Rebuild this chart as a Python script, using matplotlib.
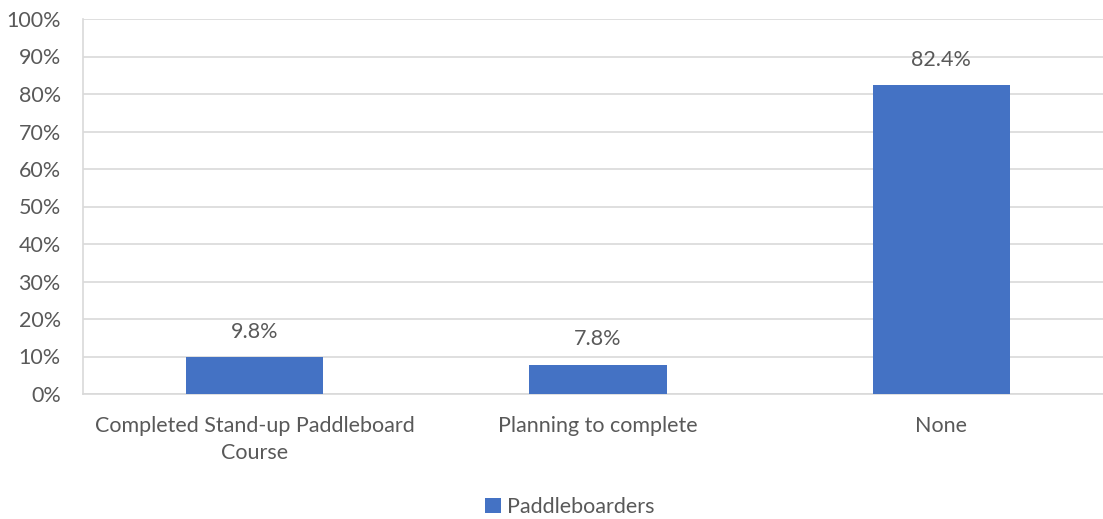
import numpy as np
import matplotlib.pyplot as plt
from matplotlib.ticker import PercentFormatter

categories = ['Completed Stand-up Paddleboard\nCourse', 'Planning to complete', 'None']
values = [9.8, 7.8, 82.4]
series_name = 'Paddleboarders'

bar_color = '#4472C4'
text_color = '#595959'
grid_color = '#D9D9D9'

plt.rcParams['font.family'] = ['Lato', 'DejaVu Sans']
fs = 15.5

fig = plt.figure(figsize=(11.03, 5.19), dpi=100)
ax = fig.add_axes([83 / 1103, 1 - 394 / 519, 1030 / 1103, 375 / 519])

x = np.arange(len(categories))
bars = ax.bar(x, values, width=0.40, color=bar_color, zorder=3, label=series_name)

for b, v in zip(bars, values):
    ax.annotate(f'{v:.1f}%', (b.get_x() + b.get_width() / 2, v),
                xytext=(0, 11), textcoords='offset points',
                ha='center', va='bottom', fontsize=fs, color=text_color)

ax.set_xlim(-0.5, len(categories) - 0.5)
ax.set_ylim(0, 100)
ax.set_yticks(np.arange(0, 101, 10))
ax.yaxis.set_major_formatter(PercentFormatter(decimals=0))
ax.set_xticks(x)
ax.set_xticklabels(categories, linespacing=1.45)
ax.tick_params(axis='both', length=0, labelsize=fs, labelcolor=text_color)
ax.tick_params(axis='y', pad=16)
ax.tick_params(axis='x', pad=16)

ax.grid(axis='y', color=grid_color, linewidth=1.2, zorder=0)
for side in ['top', 'right']:
    ax.spines[side].set_visible(False)
for side in ['left', 'bottom']:
    ax.spines[side].set_color(grid_color)
    ax.spines[side].set_linewidth(1.2)

fig.legend(handles=[bars], labels=[series_name], loc='center',
           bbox_to_anchor=(570 / 1103, 1 - 507 / 519), frameon=False,
           fontsize=fs, labelcolor=text_color, handlelength=0.7,
           handleheight=0.7, handletextpad=0.3)

fig.savefig('out.png', dpi=100, facecolor='white')
